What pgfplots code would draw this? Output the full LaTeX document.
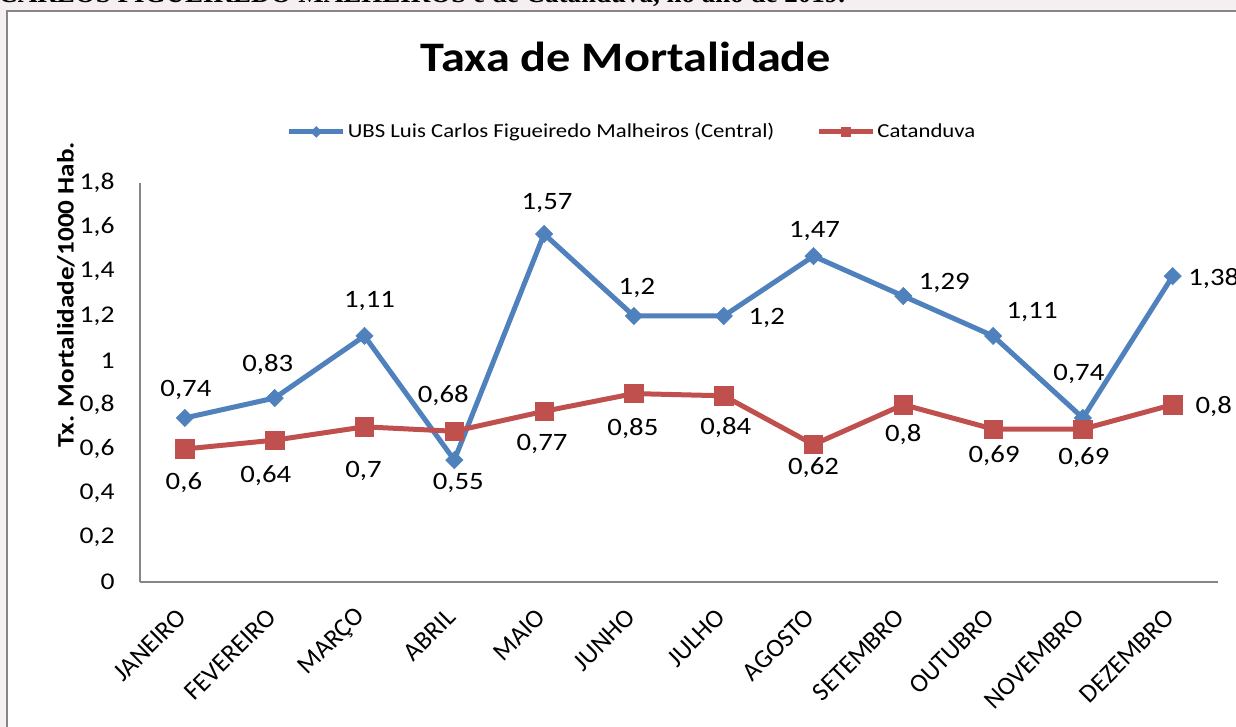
\documentclass[border=0pt]{standalone}
\usepackage{pgfplots}
\pgfplotsset{compat=1.18}
\usepackage{pgfplotstable}
\usepackage{fontspec}
\setmainfont{Carlito}[FakeStretch=1.15]
\newfontfamily\plainfont{Carlito}
\newfontfamily\timesfont{Liberation Serif}
\definecolor{ubsblue}{HTML}{4F81BD}
\definecolor{catred}{HTML}{C0504D}
\definecolor{framegray}{HTML}{868686}
\definecolor{bgpink}{HTML}{F6EFF2}

% x y lx ly  (lx, ly: label offset in px, y up)
\pgfplotstableread{
x y lx ly
0 0.74 1 28
1 0.83 -7 33
2 1.11 5 35
3 0.55 4 -23
4 1.57 3 31
5 1.2 3 28
6 1.2 43 -2
7 1.47 1 25
8 1.29 41 13
9 1.11 39 24
10 0.74 -4 44
11 1.38 41 -2
}\ubs

\pgfplotstableread{
x y lx ly
0 0.6 -1 -34
1 0.64 -9 -36
2 0.7 -1 -44
3 0.68 -11 36
4 0.77 -2 -33
5 0.85 -1 -35
6 0.84 2 -32
7 0.62 0 -23
8 0.8 0 -30
9 0.69 1 -27
10 0.69 1 -29
11 0.8 41 -2
}\cat

\begin{document}
\begin{tikzpicture}
\useasboundingbox (0,0) rectangle (618pt,363.5pt);
\fill[bgpink] (0,0) rectangle (618pt,363.5pt);
\filldraw[fill=white, draw=framegray, line width=1pt] (3.5pt,-5pt) rectangle (625pt,358pt);
\node[anchor=base west, inner sep=0pt, font=\timesfont\bfseries\fontsize{13.5}{15}\selectfont] at (-1pt,362.3pt) {CARLOS FIGUEIREDO MALHEIROS e de Catanduva, no ano de 2019.};
\begin{axis}[
  at={(70pt,72.5pt)}, anchor=south west,
  scale only axis, width=538.8pt, height=199.5pt,
  xmin=-0.5, xmax=11.5, ymin=0, ymax=1.8,
  clip=false,
  axis x line*=bottom, axis y line*=left,
  axis line style={draw=framegray, line width=0.8pt},
  major tick length=0pt,
  xtick={0,...,11},
  xticklabels={JANEIRO,FEVEREIRO,MARÇO,ABRIL,MAIO,JUNHO,JULHO,AGOSTO,SETEMBRO,OUTUBRO,NOVEMBRO,DEZEMBRO},
  xticklabel style={xshift=-1.5pt, yshift=-15.5pt, rotate=45, anchor=east, inner sep=0pt, font=\plainfont\fontsize{13}{15}\selectfont},
  ytick={0,0.2,0.4,0.6,0.8,1,1.2,1.4,1.6,1.8},
  yticklabel style={inner sep=0pt, xshift=-12.5pt, font=\fontsize{12}{14}\selectfont},
  /pgf/number format/.cd, use comma, assume math mode=true, /pgfplots/.cd,
  title={Taxa de Mortalidade},
  title style={at={(axis description cs:0.451,1.285)}, anchor=center, font=\bfseries\fontsize{21}{24}\selectfont},
  ylabel={Tx. Mortalidade/1000 Hab.},
  ylabel style={at={(axis description cs:-0.0687,0.72)}, anchor=center, font=\bfseries\fontsize{11.8}{13}\selectfont},
  legend columns=2,
  legend style={at={(axis description cs:0.4566,1.128)}, anchor=center, draw=none, fill=none,
    font=\fontsize{9.9}{12}\selectfont, nodes={inner sep=1pt},
    /tikz/every even column/.append style={column sep=20pt}},
  legend image code/.code={\draw[mark repeat=2, mark phase=2, #1] plot coordinates {(0pt,0pt) (13.5pt,0pt) (27pt,0pt)};},
  nodes near coords,
  visualization depends on={\thisrow{lx}\as\lx},
  visualization depends on={\thisrow{ly}\as\ly},
  nodes near coords style={anchor=center, xshift={\lx*0.5pt}, yshift={\ly*0.5pt}, font=\fontsize{12.5}{14}\selectfont, text=black},
]
\addplot[color=ubsblue, line width=2.5pt, mark=square*, mark size=3.05pt,
  mark options={rotate=45, fill=ubsblue, draw=ubsblue, line width=0.3pt},
  legend image post style={mark size=1.9pt}]
  table[x=x, y=y] {\ubs};
\addlegendentry{UBS Luis Carlos Figueiredo Malheiros (Central)}
\addplot[color=catred, line width=2.5pt, mark=square*, mark size=4.6pt,
  mark options={fill=catred, draw=catred, line width=0.3pt},
  legend image post style={mark size=2.4pt}]
  table[x=x, y=y] {\cat};
\addlegendentry{Catanduva}
\end{axis}
\end{tikzpicture}
\end{document}
